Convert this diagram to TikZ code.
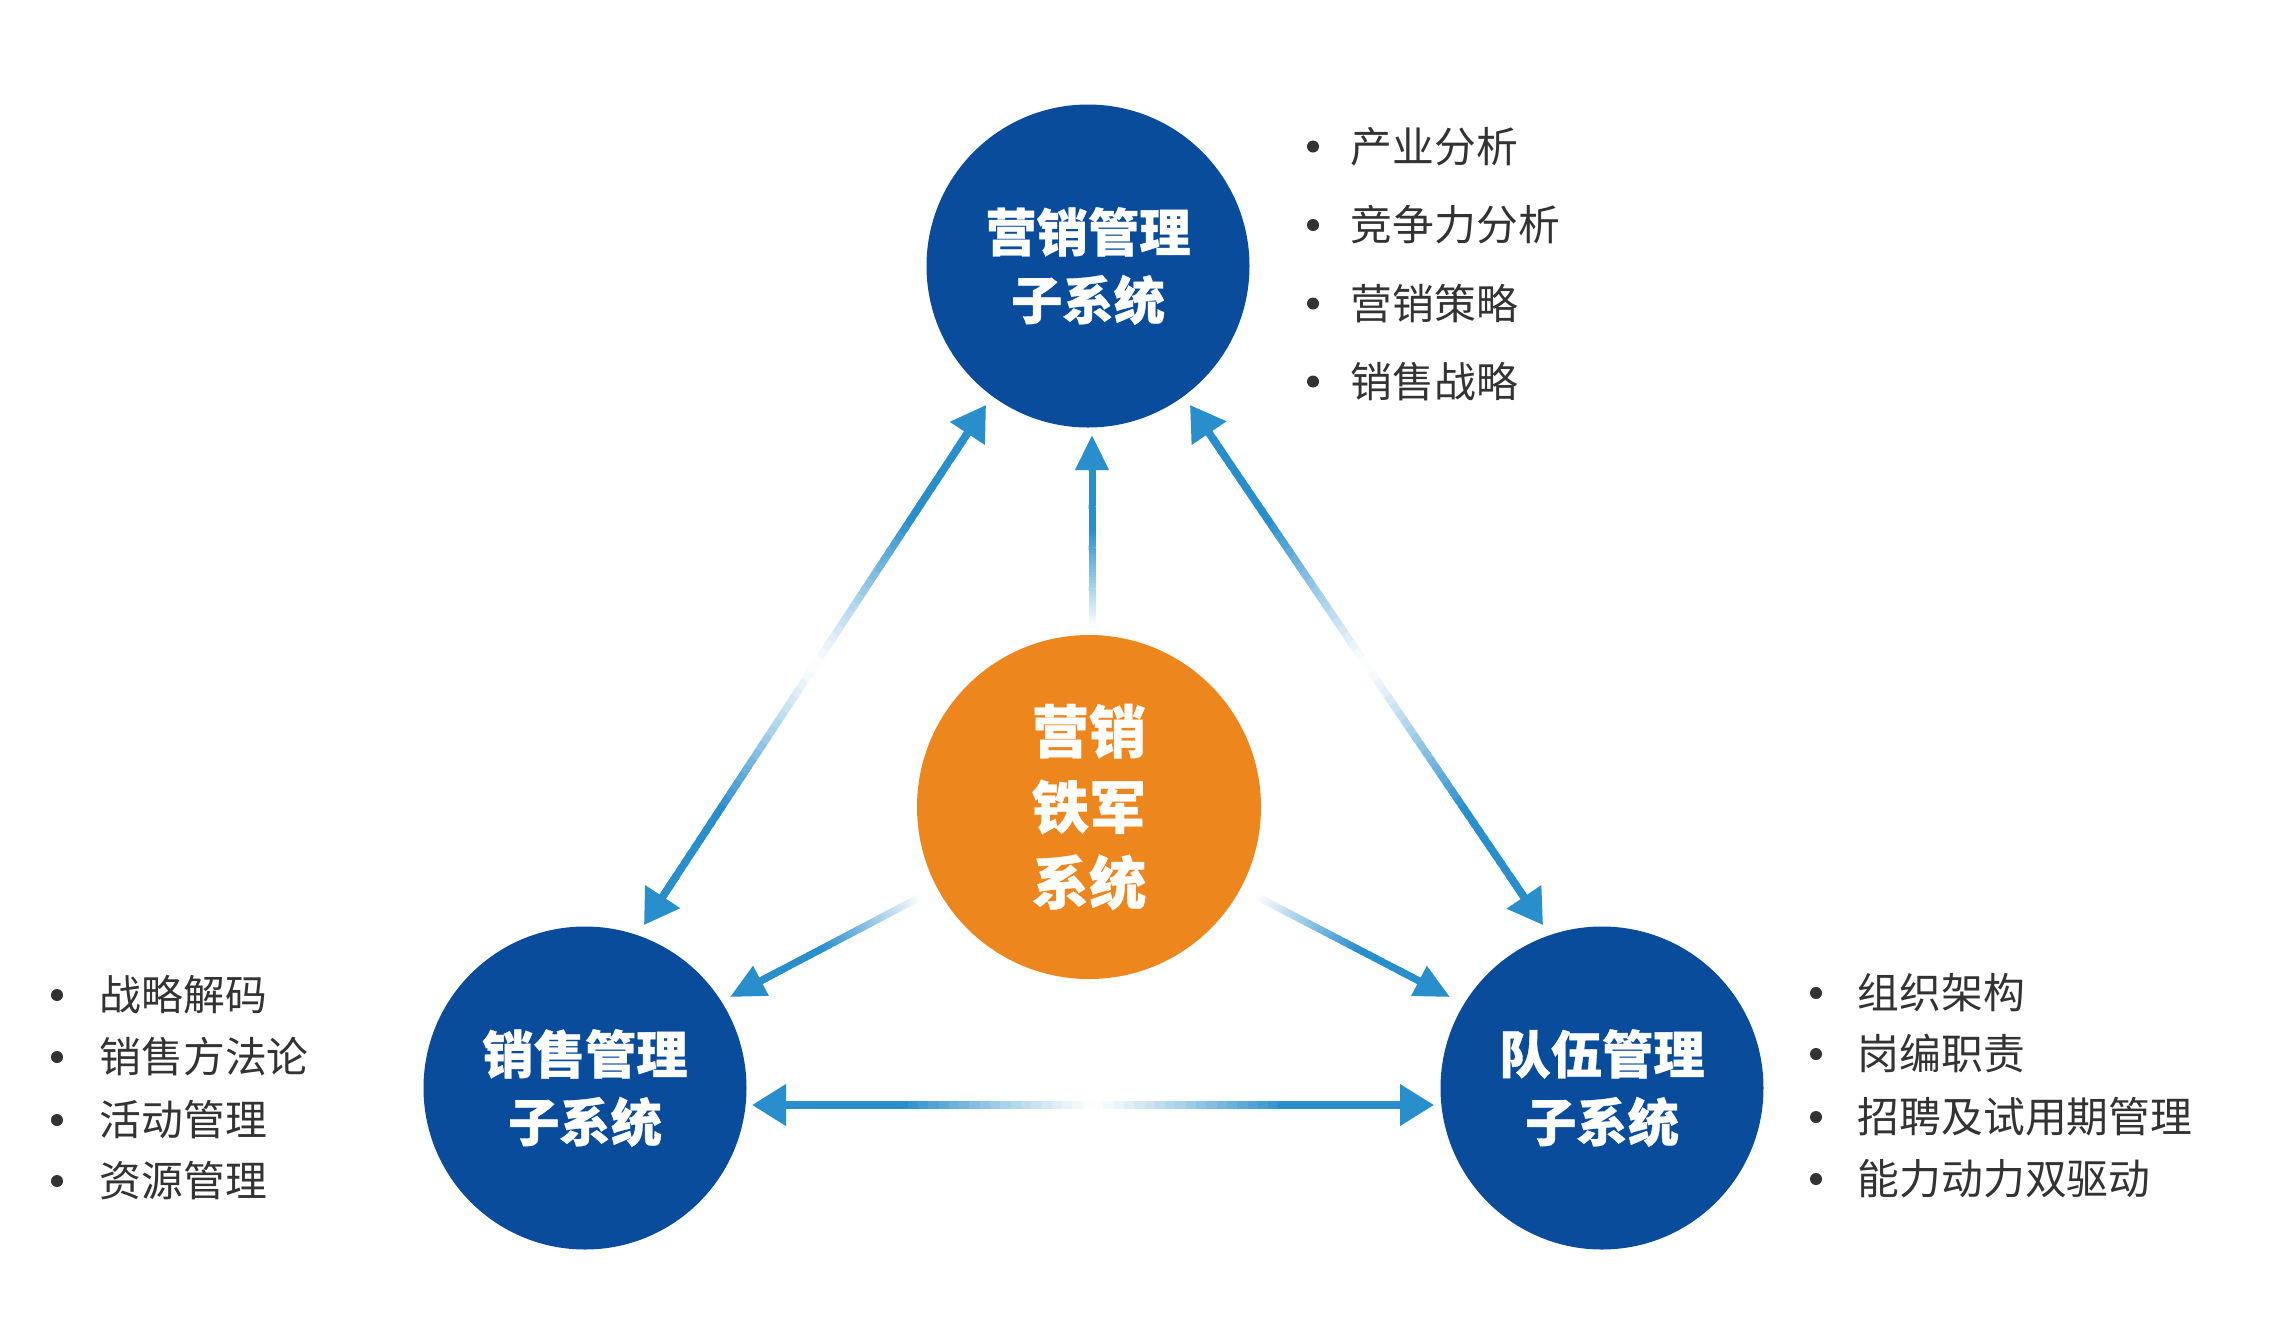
\documentclass[tikz,border=0pt]{standalone}
\usepackage{fontspec}
\newfontfamily\cjk[BoldFeatures={FakeBold=0.6}]{Noto Sans CJK SC}
\usetikzlibrary{calc,arrows.meta}
\definecolor{cblue}{RGB}{10,76,156}
\definecolor{corange}{RGB}{238,134,30}
\definecolor{abl}{RGB}{40,142,204}
\definecolor{tgray}{RGB}{51,51,51}
% double-headed shaft: dark at both ends, white in the middle
\newcommand\dshaft[3]{%
  \foreach \i in {0,...,59}{%
    \pgfmathsetmacro\ta{\i/60}%
    \pgfmathsetmacro\tb{min(1,(\i+1.6)/60)}%
    \pgfmathsetmacro\u{abs(2*(\i+0.5)/60-1)}%
    \pgfmathsetmacro\p{100*(min(1,\u/0.62))^1.15}%
    \draw[line width=#3, line cap=butt, draw=abl!\p!white] ($(#1)!\ta!(#2)$) -- ($(#1)!\tb!(#2)$);
  }}
% single shaft: white at start, dark at end
\newcommand\sshaft[3]{%
  \foreach \i in {0,...,59}{%
    \pgfmathsetmacro\ta{\i/60}%
    \pgfmathsetmacro\tb{min(1,(\i+1.6)/60)}%
    \pgfmathsetmacro\u{(\i+0.5)/60}%
    \pgfmathsetmacro\p{100*max(0,min(1,(\u-0.03)/0.6))}%
    \draw[line width=#3, line cap=butt, draw=abl!\p!white] ($(#1)!\ta!(#2)$) -- ($(#1)!\tb!(#2)$);
  }}
\begin{document}
\begin{tikzpicture}[x=0.1mm,y=-0.1mm,
  bigc/.style={circle, fill=cblue, minimum size=32.3mm, inner sep=0pt, text=white, align=center,
    font=\cjk\bfseries\fontsize{14.6pt}{19.3pt}\selectfont},
  corec/.style={circle, fill=corange, minimum size=34.4mm, inner sep=0pt, text=white, align=center,
    font=\cjk\bfseries\fontsize{16.3pt}{21.5pt}\selectfont},
  item/.style={anchor=base west, inner sep=0pt, text=tgray, font=\cjk\fontsize{11.9pt}{14pt}\selectfont},
  dtip/.style={draw=abl, line width=0.75mm, -{Triangle[length=3.4mm,width=4mm]}},
  stip/.style={draw=abl, line width=0.7mm, -{Triangle[length=3.5mm,width=3.2mm]}},
  dotb/.style={fill=tgray}
]
\useasboundingbox (0,0) rectangle (2280,1340);
\fill[white] (0,0) rectangle (2280,1340);

% circles
\node[bigc] (top) at (1088,266) {营销管理\\子系统};
\node[corec] (core) at (1089,807) {营销\\铁军\\系统};
\node[bigc] (left) at (585,1088) {销售管理\\子系统};
\node[bigc] (right) at (1602,1088) {队伍管理\\子系统};

% arrow end points
\coordinate (a1) at ($(top)+(-102,139)$);
\coordinate (b1) at ($(left)+(59,-163)$);
\coordinate (a2) at ($(top)+(102,139)$);
\coordinate (b2) at ($(right)+(-59,-163)$);
\coordinate (a3) at ($(core)+(3,-175)$);
\coordinate (b3) at ($(top)+(4,169)$);
\coordinate (a4) at ($(core)+(-163,87)$);
\coordinate (b4) at ($(left)+(145,-91)$);
\coordinate (a5) at ($(core)+(163,87)$);
\coordinate (b5) at ($(right)+(-152,-91)$);
\coordinate (a6) at ($(left)+(167,17)$);
\coordinate (b6) at ($(right)+(-168,17)$);

% double arrows between the subsystems
\coordinate (a1s) at ($(a1)!3.2mm!(b1)$); \coordinate (b1s) at ($(b1)!3.2mm!(a1)$);
\coordinate (a2s) at ($(a2)!3.2mm!(b2)$); \coordinate (b2s) at ($(b2)!3.2mm!(a2)$);
\coordinate (a6s) at ($(a6)!3.2mm!(b6)$); \coordinate (b6s) at ($(b6)!3.2mm!(a6)$);
\dshaft{a1s}{b1s}{0.75mm}
\dshaft{a2s}{b2s}{0.75mm}
\dshaft{a6s}{b6s}{0.75mm}
\draw[dtip] ($(a1)!6mm!(b1)$) -- (a1);
\draw[dtip] ($(b1)!6mm!(a1)$) -- (b1);
\draw[dtip] ($(a2)!6mm!(b2)$) -- (a2);
\draw[dtip] ($(b2)!6mm!(a2)$) -- (b2);
\draw[dtip] ($(a6)!6mm!(b6)$) -- (a6);
\draw[dtip] ($(b6)!6mm!(a6)$) -- (b6);

% single arrows from the core
\coordinate (b3s) at ($(b3)!3.3mm!(a3)$);
\coordinate (b4s) at ($(b4)!3.3mm!(a4)$);
\coordinate (b5s) at ($(b5)!3.3mm!(a5)$);
\sshaft{a3}{b3s}{0.7mm}
\sshaft{a4}{b4s}{0.7mm}
\sshaft{a5}{b5s}{0.7mm}
\draw[stip] ($(b3)!6mm!(a3)$) -- (b3);
\draw[stip] ($(b4)!6mm!(a4)$) -- (b4);
\draw[stip] ($(b5)!6mm!(a5)$) -- (b5);

% top list
\node[item] (t1) at (1350,162) {产业分析};
\node[item] (t2) at (1350,240.5) {竞争力分析};
\node[item] (t3) at (1350,319) {营销策略};
\node[item] (t4) at (1350,397) {销售战略};
\foreach \y in {146.5,225,303.5,381.5} \fill[dotb] (1313,\y) circle[radius=0.6mm];

% left list
\node[item] (l1) at (99,1010.5) {战略解码};
\node[item] (l2) at (99,1072.5) {销售方法论};
\node[item] (l3) at (99,1135.5) {活动管理};
\node[item] (l4) at (99,1196.5) {资源管理};
\foreach \y in {995,1057,1120,1181} \fill[dotb] (57,\y) circle[radius=0.6mm];

% right list
\node[item] (r1) at (1857,1008.5) {组织架构};
\node[item] (r2) at (1857,1069.5) {岗编职责};
\node[item] (r3) at (1857,1132.5) {招聘及试用期管理};
\node[item] (r4) at (1857,1194.5) {能力动力双驱动};
\foreach \y in {993,1054,1117,1179} \fill[dotb] (1816,\y) circle[radius=0.6mm];
\end{tikzpicture}
\end{document}
